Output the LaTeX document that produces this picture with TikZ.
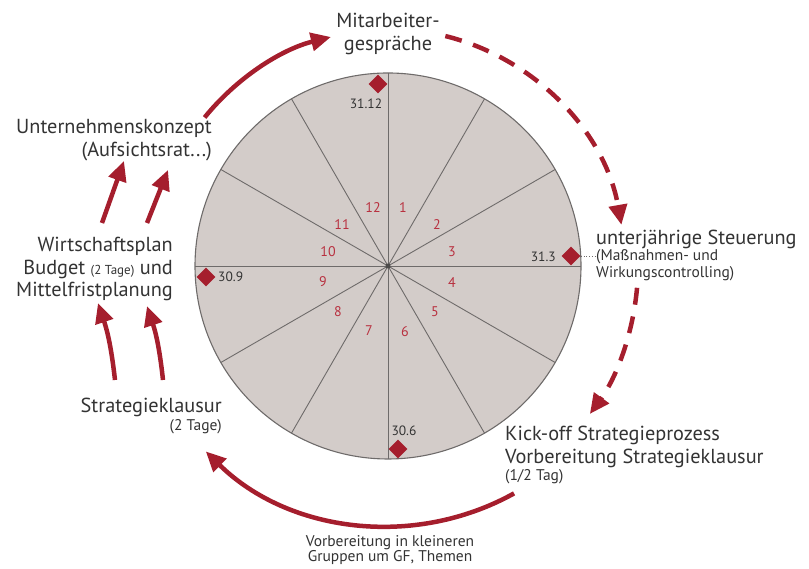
\documentclass[tikz,border=0pt]{standalone}
\usepackage{fontspec}
\setmainfont{PT Sans}
\usetikzlibrary{arrows.meta,calc,shapes.geometric}
\definecolor{rd}{HTML}{A51E2D}
\definecolor{rdlight}{HTML}{B8303F}
\definecolor{wheel}{HTML}{D3CCC9}
\definecolor{rimgray}{HTML}{6E6B6A}
\definecolor{txt}{HTML}{333333}
\begin{document}
\begin{tikzpicture}[x=1pt,y=1pt,
  big/.style={font=\fontsize{20.3}{22.5}\selectfont, text=txt, inner sep=0pt},
  smalltxt/.style={font=\fontsize{15.5}{17}\selectfont, text=txt, inner sep=0pt},
  datelbl/.style={font=\fontsize{13.5}{15}\selectfont, text=txt, inner sep=0pt},
  month/.style={font=\fontsize{14}{16}\selectfont, text=rdlight, inner sep=0pt},
  datemark/.style={diamond, fill=rd, minimum width=19pt, minimum height=19pt, inner sep=0pt},
  spoke/.style={draw=rimgray, line width=0.9pt},
  redarr/.style={draw=rd, line width=4.5pt, -{Triangle[length=20pt,width=18pt]}},
  dasharr/.style={redarr, dash pattern=on 17pt off 12pt},
]
\useasboundingbox (0,0) rectangle (809,569);
\coordinate (C) at (388,303);
% wheel
\fill[wheel] (C) circle[radius=193];
\foreach \a in {0,30,...,330}
  \draw[spoke] (C) -- ($(C)+(\a:193)$);
\draw[rimgray, line width=1.1pt] (C) circle[radius=193];
\fill[rimgray!70!black] (C) circle[radius=2.5];
% month numbers
\foreach \n/\dx/\dy in {1/15/58, 2/49/41, 3/64/14, 4/64/-17, 5/47/-46, 6/17/-66,
                        7/-19/-65, 8/-50/-46, 9/-65/-16, 10/-60/14, 11/-46/41, 12/-15/58}
  \node[month] (m\n) at ($(C)+(\dx,\dy)$) {\n};
% date markers
\node[datemark] (dDec) at (378,485) {};
\node[datelbl] (lDec) at (366,465) {31.12};
\node[datemark] (dMar) at (571,313) {};
\node[datelbl, anchor=east] (lMar) at (556,312) {31.3};
\node[datemark] (dSep) at (206,292) {};
\node[datelbl, anchor=west] (lSep) at (218,292) {30.9};
\node[datemark] (dJun) at (398,120) {};
\node[datelbl] (lJun) at (404,138) {30.6};
% texts
\node[big, align=center] (mit) at (388,535) {Mitarbeiter-\\gespräche};
\node[big, align=right, anchor=east] (unt) at (212,429) {Unternehmenskonzept\\[1pt](Aufsichtsrat...)};
\node[big, align=right, anchor=east] (wip) at (173,300)
  {Wirtschaftsplan\\Budget {\fontsize{13}{14}\selectfont(2 Tage)} und\\Mittelfristplanung};
\node[big, anchor=east] (skl) at (222,162) {Strategieklausur};
\node[smalltxt, anchor=east] (skl2) at (222,142) {(2 Tage)};
\node[big, anchor=west] (ujs) at (596,330) {unterjährige Steuerung};
\node[smalltxt, anchor=north west, align=left] (ujs2) at (596,320) {(Maßnahmen- und\\Wirkungscontrolling)};
\node[big, anchor=west, align=left] (kick) at (505,122) {Kick-off Strategieprozess\\Vorbereitung Strategieklausur};
\node[smalltxt, anchor=west] (kick2) at (505,92) {(1/2 Tag)};
\node[smalltxt, align=center, font=\fontsize{15.5}{15.5}\selectfont] (vor) at (390,19) {Vorbereitung in kleineren\\Gruppen um GF, Themen};
\draw[rimgray, dotted, line width=0.8pt] (dMar.east) -- (ujs2.north west |- dMar.east);
% big arcs
\coordinate (a1) at ($(C)+(141:236)$);
\draw[redarr] (a1) arc[start angle=141, end angle=104, radius=236];
\coordinate (a2) at ($(C)+(76:237)$);
\draw[dasharr] (a2) arc[start angle=76, end angle=10, radius=237];
\coordinate (a3) at ($(C)+(-5:250)$);
\draw[dasharr] (a3) arc[start angle=-5, end angle=-36, radius=252];
\coordinate (a4) at ($(C)+(-61:260)$);
\draw[redarr] (a4) arc[start angle=-61, end angle=-134.5, radius=260];
% left small arrows
\coordinate (la1) at (115,189); \coordinate (la2) at (98,266);
\coordinate (lb1) at (163,189); \coordinate (lb2) at (147,263);
\coordinate (lc1) at (102,346); \coordinate (lc2) at (124,408);
\coordinate (ld1) at (147,346); \coordinate (ld2) at (168,399);
\draw[redarr] (la1) to[bend right=6] (la2);
\draw[redarr] (lb1) to[bend right=6] (lb2);
\draw[redarr] (lc1) -- (lc2);
\draw[redarr] (ld1) -- (ld2);
\end{tikzpicture}
\end{document}
